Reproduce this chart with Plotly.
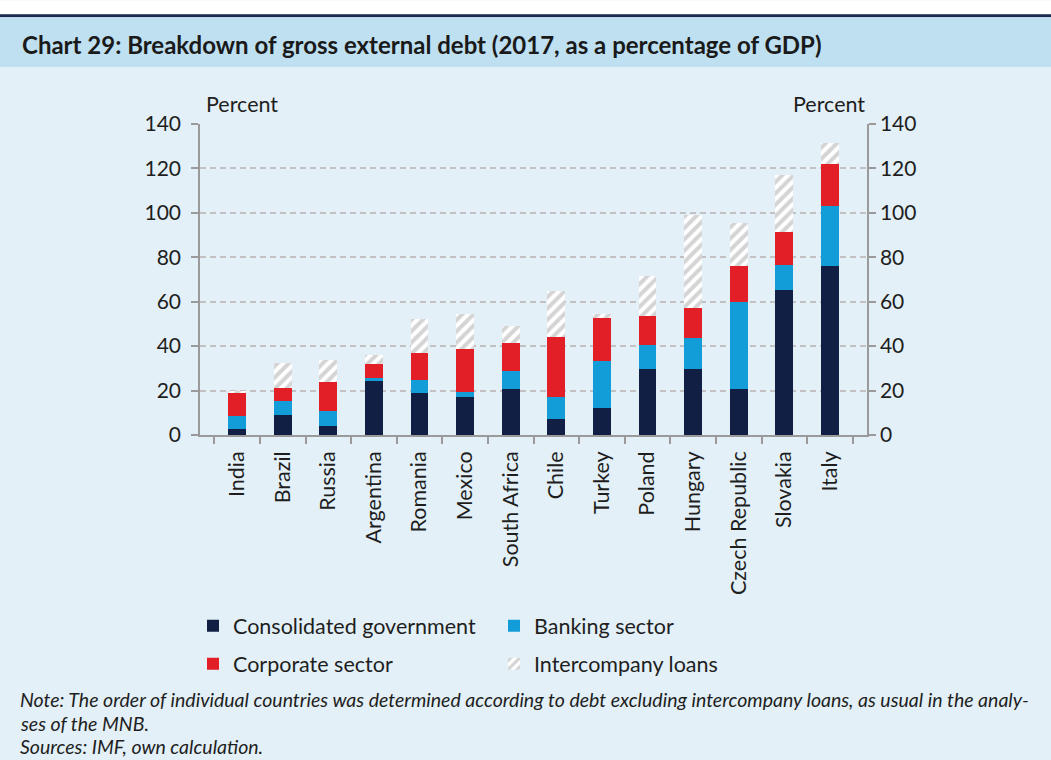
import plotly.graph_objects as go

# Gross external debt by sector, 2017, % of GDP
countries = ["India", "Brazil", "Russia", "Argentina", "Romania", "Mexico",
             "South Africa", "Chile", "Turkey", "Poland", "Hungary",
             "Czech Republic", "Slovakia", "Italy"]
government = [2.5, 9.0, 4.0, 24.5, 19.0, 17.2, 20.8, 7.2, 12.0, 29.5, 29.5, 20.8, 65.2, 76.2]
banking = [6.0, 6.4, 6.9, 1.2, 5.6, 2.3, 7.8, 10.1, 21.5, 11.1, 14.1, 39.2, 11.4, 26.9]
corporate = [10.7, 5.6, 12.8, 6.4, 12.2, 19.1, 12.9, 26.7, 19.3, 12.8, 13.6, 16.2, 15.0, 18.7]
intercompany = [0.8, 11.2, 10.2, 3.9, 15.3, 15.7, 7.7, 21.0, 1.6, 18.1, 42.0, 19.4, 25.5, 9.6]
y_ticks = [0, 20, 40, 60, 80, 100, 120, 140]

W, H = 1051, 760
PL, PR, PT, PB = 200, 867, 124, 435.5   # plot area in pixels
FONT = "Lato"
TXT = "#1e1e1e"
AXIS = "#9a9a9a"


def px_x(px):
    return (px - PL) / (PR - PL)


def px_y(py):
    return (PB - py) / (PB - PT)


fig = go.Figure()
bar_w = 0.39
fig.add_bar(x=countries, y=government, name="Consolidated government",
            marker=dict(color="#121f45", line=dict(width=0)), width=bar_w, legend="legend")
fig.add_bar(x=countries, y=banking, name="Banking sector",
            marker=dict(color="#139dd8", line=dict(width=0)), width=bar_w, legend="legend")
fig.add_bar(x=countries, y=corporate, name="Corporate sector",
            marker=dict(color="#e21e26", line=dict(width=0)), width=bar_w, legend="legend2")
fig.add_bar(x=countries, y=intercompany, name="Intercompany loans",
            marker=dict(color="white", line=dict(width=0),
                        pattern=dict(shape="/", fgcolor="#aaaaaa", bgcolor="white",
                                     size=8, solidity=0.5)),
            width=bar_w, legend="legend2")

# invisible trace so the right-hand axis is drawn
totals = [g + b + c + i for g, b, c, i in zip(government, banking, corporate, intercompany)]
fig.add_scatter(x=countries, y=totals, yaxis="y2", mode="markers",
                marker=dict(opacity=0), showlegend=False, hoverinfo="skip")

axis_font = dict(family=FONT, size=21, color=TXT)
yax = dict(range=[0, 140], tickvals=y_ticks, ticks="outside", ticklen=7,
           tickcolor=AXIS, tickwidth=1.5, showline=True, linecolor=AXIS,
           linewidth=1.5, tickfont=axis_font, zeroline=False, fixedrange=True)

legend_font = dict(family=FONT, size=21.5, color=TXT)

fig.update_layout(
    width=W, height=H,
    margin=dict(l=PL, r=W - PR, t=PT, b=H - PB, pad=0),
    paper_bgcolor="#e3f0f7", plot_bgcolor="#e3f0f7",
    barmode="stack", bargap=0,
    font=dict(family=FONT, color=TXT),
    xaxis=dict(type="category", tickson="boundaries", ticks="outside", ticklen=7,
               tickcolor=AXIS, tickwidth=1.5, showline=True, linecolor=AXIS,
               linewidth=1.5, tickangle=-90, tickfont=dict(family=FONT, size=21.5, color=TXT),
               ticklabelstandoff=6, showgrid=False),
    yaxis=dict(**yax, ticklabelstandoff=6, showgrid=True, gridcolor="#c2c2c2",
               griddash="6px,4px", gridwidth=1.8),
    yaxis2=dict(**yax, overlaying="y", side="right", showgrid=False),
    legend=dict(orientation="h", x=px_x(193), y=px_y(606), xanchor="left", yanchor="top",
                entrywidth=256, font=legend_font,
                bgcolor="rgba(0,0,0,0)", traceorder="normal"),
    legend2=dict(orientation="h", x=px_x(193), y=px_y(644), xanchor="left", yanchor="top",
                 entrywidth=256, font=legend_font,
                 bgcolor="rgba(0,0,0,0)", traceorder="normal"),
)

# header band
shapes = [
    dict(type="rect", x0=px_x(0), x1=px_x(W), y0=px_y(0), y1=px_y(14),
         fillcolor="white", line=dict(width=0)),
    dict(type="rect", x0=px_x(0), x1=px_x(W), y0=px_y(14), y1=px_y(17),
         fillcolor="#1b2a4e", line=dict(width=0)),
    dict(type="rect", x0=px_x(0), x1=px_x(W), y0=px_y(17), y1=px_y(67),
         fillcolor="#bee0f1", line=dict(width=0)),
]
for s in shapes:
    s.update(xref="paper", yref="paper", layer="below")
fig.update_layout(shapes=shapes)

annotations = [
    dict(text="<b>Chart 29: Breakdown of gross external debt (2017, as a percentage of GDP)</b>",
         x=px_x(20), y=px_y(44), xanchor="left", yanchor="middle",
         font=dict(family=FONT, size=24, color="#1a1a1a")),
    dict(text="Percent", x=px_x(204), y=px_y(104), xanchor="left", yanchor="middle",
         font=dict(family=FONT, size=21.5, color=TXT)),
    dict(text="Percent", x=px_x(867), y=px_y(104), xanchor="right", yanchor="middle",
         font=dict(family=FONT, size=21.5, color=TXT)),
    dict(text="<i>Note: The order of individual countries was determined according to debt "
              "excluding intercompany loans, as usual in the analy-</i>",
         x=px_x(18), y=px_y(700), xanchor="left", yanchor="middle",
         font=dict(family=FONT, size=19.5, color=TXT)),
    dict(text="<i>ses of the MNB.</i>",
         x=px_x(18), y=px_y(724), xanchor="left", yanchor="middle",
         font=dict(family=FONT, size=19.5, color=TXT)),
    dict(text="<i>Sources: IMF, own calculation.</i>",
         x=px_x(18), y=px_y(748), xanchor="left", yanchor="middle",
         font=dict(family=FONT, size=19.5, color=TXT)),
]
for a in annotations:
    a.update(xref="paper", yref="paper", showarrow=False)
fig.update_layout(annotations=annotations)

fig.write_html("out.html")
